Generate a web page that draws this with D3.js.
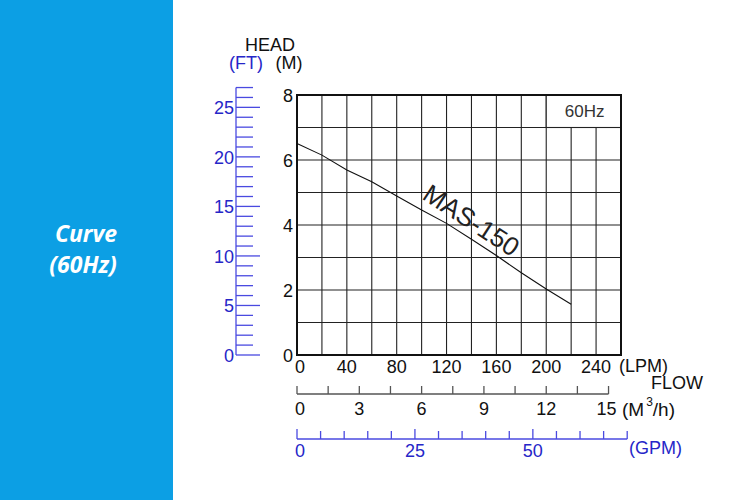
<!DOCTYPE html>
<meta charset="utf-8">
<style>
    body { margin: 0; background: #fff; }
    text { font-family: "Liberation Sans", Arial, sans-serif; }
    .side text { font-family: "Open Sans", sans-serif; font-weight: 700; font-style: italic; }
</style>
<svg width="750" height="500"></svg>
<script src="https://d3js.org/d3.v7.min.js"></script>
<script>
    // pump curve
    var flowLpm = [0, 20, 40, 60, 80, 100, 120, 140, 160, 180, 200, 220];
    var headM = [6.51, 6.15, 5.69, 5.33, 4.89, 4.46, 4.05, 3.56, 3.06, 2.53, 2.03, 1.56];

    var lpmTicks = [0, 40, 80, 120, 160, 200, 240];
    var mTicks = [0, 2, 4, 6, 8];
    var ftLabels = [0, 5, 10, 15, 20, 25];
    var m3hLabels = [0, 3, 6, 9, 12, 15];
    var gpmLabels = [0, 25, 50];

    var blue = "#2626c8", blueLine = "#4a4ae0";
    var fs = "18px";

    var svg = d3.select("svg");

    // left blue panel
    var side = svg.append("g").attr("class", "side");
    side.append("rect").attr("width", 173).attr("height", 500).attr("fill", "#0c9fe4");
    side.append("text").attr("x", 86).attr("y", 242).attr("text-anchor", "middle")
        .attr("fill", "#fff").style("font-size", "23px").text("Curve");
    side.append("text").attr("x", 83).attr("y", 273).attr("text-anchor", "middle")
        .attr("fill", "#fff").style("font-size", "23px").text("(60Hz)");

    var x = d3.scaleLinear().domain([0, 260]).range([297, 621]);
    var y = d3.scaleLinear().domain([0, 8]).range([355, 95]);
    var yFt = d3.scaleLinear().domain([0, 8 / 0.3048]).range([355, 95]);
    var xM3 = d3.scaleLinear().domain([0, 260 * 0.06]).range([297, 621]);
    var xGpm = d3.scaleLinear().domain([0, 260 / 3.7854]).range([297, 621]);

    // grid
    var grid = svg.append("g").attr("stroke", "#222").attr("stroke-width", 1.1);
    grid.selectAll(".v").data(d3.range(20, 260, 20)).enter().append("line")
        .attr("x1", function (d) { return x(d); }).attr("x2", function (d) { return x(d); })
        .attr("y1", y(8)).attr("y2", y(0));
    grid.selectAll(".h").data(d3.range(1, 8)).enter().append("line")
        .attr("x1", x(0)).attr("x2", x(260))
        .attr("y1", function (d) { return y(d); }).attr("y2", function (d) { return y(d); });

    // 60Hz box
    svg.append("rect").attr("x", x(200)).attr("y", y(8))
        .attr("width", x(260) - x(200)).attr("height", y(7) - y(8))
        .attr("fill", "#fff").attr("stroke", "#222").attr("stroke-width", 1.1);
    svg.append("text").attr("x", (x(200) + x(260)) / 2 + 1).attr("y", (y(8) + y(7)) / 2 + 6)
        .attr("text-anchor", "middle").attr("fill", "#333").style("font-size", "17px").text("60Hz");

    svg.append("rect").attr("x", x(0)).attr("y", y(8))
        .attr("width", x(260) - x(0)).attr("height", y(0) - y(8))
        .attr("fill", "none").attr("stroke", "#111").attr("stroke-width", 2);

    // curve
    var line = d3.line()
        .x(function (d, i) { return x(flowLpm[i]); })
        .y(function (d) { return y(d); });
    svg.append("path").datum(headM).attr("d", line)
        .attr("fill", "none").attr("stroke", "#111").attr("stroke-width", 1.1);

    svg.append("text")
        .attr("transform", "translate(" + x(140) + "," + y(4.15) + ") rotate(33)")
        .attr("text-anchor", "middle").attr("dy", "0.35em")
        .attr("fill", "#222").style("font-size", "26px").text("MAS-150");

    // M labels
    svg.selectAll(".ml").data(mTicks).enter().append("text")
        .attr("x", 293).attr("y", function (d) { return y(d) + 7; })
        .attr("text-anchor", "end").attr("fill", "#111").style("font-size", fs)
        .text(function (d) { return d; });

    // FT axis
    var ft = svg.append("g");
    ft.append("line").attr("x1", 236).attr("x2", 236).attr("y1", yFt(27)).attr("y2", yFt(0))
        .attr("stroke", blueLine).attr("stroke-width", 1.3);
    ft.selectAll(".t").data(d3.range(0, 28)).enter().append("line")
        .attr("x1", 236).attr("x2", function (d) { return d % 5 === 0 ? 260 : 253; })
        .attr("y1", function (d) { return yFt(d); }).attr("y2", function (d) { return yFt(d); })
        .attr("stroke", blueLine).attr("stroke-width", 1.3);
    ft.selectAll(".l").data(ftLabels).enter().append("text")
        .attr("x", 234).attr("y", function (d) { return yFt(d) + 7; })
        .attr("text-anchor", "end").attr("fill", blue).style("font-size", fs)
        .text(function (d) { return d; });

    // head titles
    svg.append("text").attr("x", 270).attr("y", 51).attr("text-anchor", "middle")
        .attr("fill", "#111").style("font-size", fs).text("HEAD");
    svg.append("text").attr("x", 246).attr("y", 69).attr("text-anchor", "middle")
        .attr("fill", blue).style("font-size", fs).text("(FT)");
    svg.append("text").attr("x", 289).attr("y", 69).attr("text-anchor", "middle")
        .attr("fill", "#111").style("font-size", fs).text("(M)");

    // LPM labels
    svg.selectAll(".xl").data(lpmTicks).enter().append("text")
        .attr("x", function (d) { return x(d) + (d === 0 ? 3 : 0); }).attr("y", 373)
        .attr("text-anchor", "middle").attr("fill", "#111").style("font-size", fs)
        .text(function (d) { return d; });
    svg.append("text").attr("x", 619).attr("y", 372).attr("fill", "#111")
        .style("font-size", fs).text("(LPM)");
    svg.append("text").attr("x", 651).attr("y", 389).attr("fill", "#111")
        .style("font-size", fs).text("FLOW");

    // M3/h axis
    var m3 = svg.append("g");
    m3.append("line").attr("x1", xM3(0)).attr("x2", xM3(15)).attr("y1", 394).attr("y2", 394)
        .attr("stroke", "#555").attr("stroke-width", 1.3);
    m3.selectAll(".t").data(d3.range(0, 16.5, 1.5)).enter().append("line")
        .attr("x1", function (d) { return xM3(d); }).attr("x2", function (d) { return xM3(d); })
        .attr("y1", 386).attr("y2", 394).attr("stroke", "#555").attr("stroke-width", 1.3);
    m3.selectAll(".l").data(m3hLabels).enter().append("text")
        .attr("x", function (d) { return xM3(d) + (d === 0 ? 3 : d === 15 ? -2 : 0); }).attr("y", 415)
        .attr("text-anchor", "middle").attr("fill", "#111").style("font-size", fs)
        .text(function (d) { return d; });
    var unit = m3.append("text").attr("x", 622).attr("y", 416).attr("fill", "#111").style("font-size", "19px");
    unit.append("tspan").text("(M");
    unit.append("tspan").attr("dy", -10).attr("dx", 2).style("font-size", "12px").text("3");
    unit.append("tspan").attr("dy", 10).text("/h)");

    // GPM axis
    var gp = svg.append("g");
    gp.append("line").attr("x1", xGpm(0)).attr("x2", xGpm(70)).attr("y1", 439).attr("y2", 439)
        .attr("stroke", blueLine).attr("stroke-width", 1.3);
    gp.selectAll(".t").data(d3.range(0, 75, 5)).enter().append("line")
        .attr("x1", function (d) { return xGpm(d); }).attr("x2", function (d) { return xGpm(d); })
        .attr("y1", function (d) { return d % 25 === 0 ? 429 : 431; }).attr("y2", 439)
        .attr("stroke", blueLine).attr("stroke-width", 1.3);
    gp.selectAll(".l").data(gpmLabels).enter().append("text")
        .attr("x", function (d) { return xGpm(d) + (d === 0 ? 3 : 0); }).attr("y", 457)
        .attr("text-anchor", "middle").attr("fill", blue).style("font-size", fs)
        .text(function (d) { return d; });
    svg.append("text").attr("x", 629).attr("y", 454).attr("fill", blue)
        .style("font-size", fs).text("(GPM)");
</script>
